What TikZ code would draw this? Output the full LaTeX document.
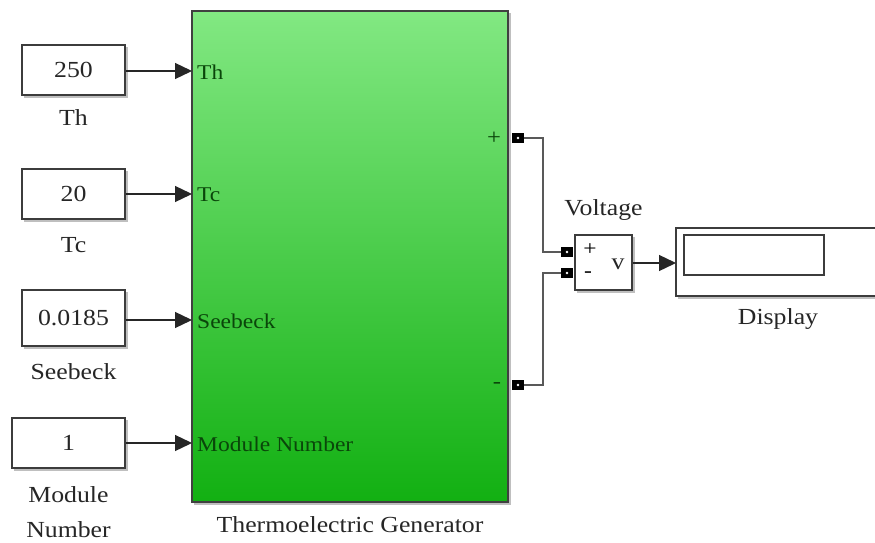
\documentclass[tikz,border=0pt]{standalone}
\usepackage{fontspec}
\setmainfont{Liberation Serif}[FakeStretch=1.12]
\usetikzlibrary{arrows.meta}
\definecolor{gtop}{RGB}{130,232,130}
\definecolor{gbot}{RGB}{18,176,18}
\definecolor{portlbl}{RGB}{10,70,10}
\definecolor{edge}{RGB}{60,60,60}
\tikzset{
  blk/.style={draw=edge, line width=1.6pt, fill=white, inner sep=0pt},
  shadowline/.style={draw=black!25, line width=2pt},
  lbl/.style={font=\fontsize{23}{26}\selectfont, text=black!85, inner sep=0pt},
  plbl/.style={font=\fontsize{21}{24}\selectfont, text=portlbl, inner sep=0pt, anchor=west},
  sig/.style={draw=black!85, line width=1.3pt, -{Triangle[length=17pt,width=16pt]}},
  wire/.style={draw=black!65, line width=1.4pt},
  portsq/.style={fill=black, minimum width=12pt, minimum height=10pt, inner sep=0pt}
}
\begin{document}
\begin{tikzpicture}[x=1pt,y=-1pt]
\useasboundingbox (0,0) rectangle (875,543);
\fill[white] (0,0) rectangle (875,543);

% green subsystem
\draw[shadowline] (194,504) -- (510,504) -- (510,13);
\shade[top color=gtop, bottom color=gbot] (192,11) rectangle (508,502);
\draw[draw=black!75, line width=1.4pt] (192,11) rectangle (508,502);
\coordinate (inTh) at (192,71);
\coordinate (inTc) at (192,194);
\coordinate (inSb) at (192,320);
\coordinate (inMN) at (192,443);
\node[plbl] (pTh) at (197,72) {Th};
\node[plbl] (pTc) at (197,195) {Tc};
\node[plbl] (pSb) at (197,321) {Seebeck};
\node[plbl] (pMN) at (197,444) {Module Number};
\node[lbl] (tegl) at (350,525) {Thermoelectric Generator};
\node[font=\fontsize{22}{24}\selectfont, text=portlbl, inner sep=0pt] (plus) at (494,138) {+};
\node[font=\fontsize{22}{24}\selectfont, text=portlbl, inner sep=0pt] (minus) at (497,385) {-};

% constant blocks
\draw[shadowline] (24,97) -- (127,97) -- (127,47);
\node[blk, minimum width=103pt, minimum height=50pt] (c1) at (73.5,70) {};
\node[lbl] at (c1.center) {250};
\node[lbl] (l1) at (73.5,118) {Th};

\draw[shadowline] (24,221) -- (127,221) -- (127,171);
\node[blk, minimum width=103pt, minimum height=50pt] (c2) at (73.5,194) {};
\node[lbl] at (c2.center) {20};
\node[lbl] (l2) at (73.5,245) {Tc};

\draw[shadowline] (24,348) -- (127,348) -- (127,292);
\node[blk, minimum width=103pt, minimum height=56pt] (c3) at (73.5,318) {};
\node[lbl] at (c3.center) {0.0185};
\node[lbl] (l3) at (73.5,372) {Seebeck};

\draw[shadowline] (14,470) -- (127,470) -- (127,420);
\node[blk, minimum width=113pt, minimum height=50pt] (c4) at (68.5,443) {};
\node[lbl] at (c4.center) {1};
\node[lbl] (l4a) at (68.5,495) {Module};
\node[lbl] (l4b) at (68.5,530) {Number};

\draw[sig] (c1.east |- inTh) -- (inTh);
\draw[sig] (c2.east |- inTc) -- (inTc);
\draw[sig] (c3.east |- inSb) -- (inSb);
\draw[sig] (c4.east |- inMN) -- (inMN);

% voltage sensor
\draw[shadowline] (577,292) -- (634,292) -- (634,237);
\node[blk, minimum width=57pt, minimum height=55pt] (vs) at (603.5,262.5) {};
\node[lbl] (vl) at (603.5,210) {Voltage};
\node[font=\fontsize{21}{23}\selectfont, inner sep=0pt] (vp) at (590,250) {+};
\node[font=\fontsize{21}{23}\selectfont, inner sep=0pt] (vm) at (588,275) {-};
\node[lbl] (vv) at (618,264) {v};

% ports
\node[portsq] (po) at (518,138) {};
\node[portsq] (mo) at (518,385) {};
\node[portsq] (vpi) at (567,252) {};
\node[portsq] (vmi) at (567,273) {};
\foreach \p in {po,mo,vpi,vmi} \fill[white] (\p.center) circle (1.3pt);

\draw[wire] (po.east) -- (543,138) -- (543,252) -- (vpi.west);
\draw[wire] (mo.east) -- (543,385) -- (543,273) -- (vmi.west);

% display
\draw[shadowline] (678,298) -- (875,298);
\draw[draw=edge, line width=1.6pt, fill=white] (880,228) -- (676,228) -- (676,296) -- (880,296);
\coordinate (din) at (676,263);
\node[draw=edge, line width=1.4pt, minimum width=140pt, minimum height=40pt, inner sep=0pt] (dscr) at (754,255) {};
\node[lbl] (dl) at (778,319) {Display};

\draw[sig] (vs.east |- din) -- (din);
\end{tikzpicture}
\end{document}
